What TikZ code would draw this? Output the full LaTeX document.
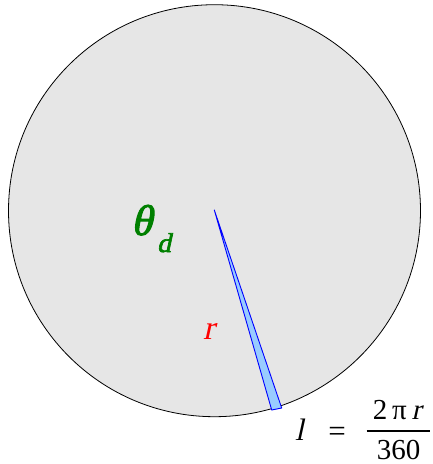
\documentclass[tikz,border=0pt]{standalone}
\usepackage{fontspec}
\setmainfont{Liberation Serif}
\newfontfamily\tms{Liberation Serif}
\newfontfamily\tmsit{Liberation Serif}[FakeSlant=0.22]
\newfontfamily\tmsbi{Liberation Serif}[FakeSlant=0.22, FakeBold=2.5]
\definecolor{discgray}{HTML}{E6E6E6}
\definecolor{wedgefill}{HTML}{99CCFF}
\definecolor{thetagreen}{HTML}{008000}
\tikzset{
  disc/.style={draw=black, line width=0.8pt, fill=discgray},
  wedge/.style={draw=blue, line width=0.9pt, fill=wedgefill, line join=round},
  lbl/.style={inner sep=0pt, anchor=base},
}
\begin{document}
\begin{tikzpicture}[x=1pt,y=-1pt]
\useasboundingbox (0,0) rectangle (433,464);
% disc
\draw[disc] (214.5,210.7) circle (206);
% wedge
\coordinate (apex) at (214.3,210);
\coordinate (wl) at (271.7,410);
\coordinate (wr) at (281.7,408);
\draw[wedge] (apex) -- (wl) -- (wr) -- cycle;
% labels
\node[lbl, anchor=base west, text=thetagreen] (theta) at (131,235)
  {\tmsbi\fontsize{43}{43}\selectfont θ};
\node[lbl, anchor=base west, text=thetagreen] (sub) at (157,252)
  {\tmsbi\fontsize{27}{27}\selectfont d};
\node[lbl, anchor=base west, text=red] (r) at (203,339)
  {\tmsit\fontsize{34}{34}\selectfont r};
% formula
\node[lbl, anchor=base west] (l) at (295,440)
  {\tmsit\fontsize{31}{31}\selectfont l};
\node[lbl, anchor=base] (eq) at (337,441)
  {\tms\fontsize{31}{31}\selectfont =};
\node[lbl] (num) at (397,419)
  {\tms\fontsize{29}{29}\selectfont 2\,π\,{\tmsit r}};
\node[lbl] (den) at (398.5,459)
  {\tms\fontsize{29}{29}\selectfont 360};
\coordinate (barl) at (366.7,431);
\coordinate (barr) at (430,431);
\draw[line width=1.4pt] (barl) -- (barr);
\end{tikzpicture}
\end{document}
